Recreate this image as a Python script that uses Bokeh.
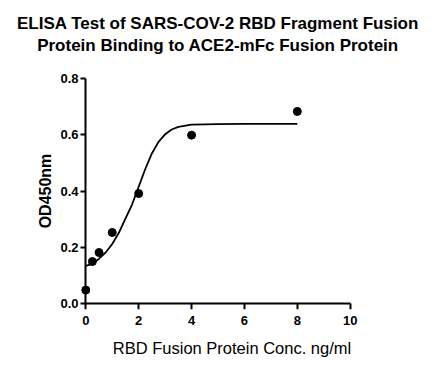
from bokeh.plotting import figure
from bokeh.layouts import column
from bokeh.models import FixedTicker, PrintfTickFormatter, LinearAxis, Title
from bokeh.core.properties import value
from bokeh.embed import file_html
from bokeh.resources import INLINE

# measured points
conc = [0, 0.25, 0.5, 1, 2, 4, 8]
od = [0.049, 0.150, 0.182, 0.253, 0.391, 0.598, 0.682]

# fitted curve
curve_x = [0, 0.25, 0.5, 0.75, 1.0, 1.25, 1.5, 1.75, 2.0, 2.25, 2.5, 2.75,
           3.0, 3.25, 3.5, 4.0, 5.0, 6.0, 8.0]
curve_y = [0.135, 0.142, 0.160, 0.182, 0.212, 0.252, 0.302, 0.352, 0.415,
           0.478, 0.533, 0.574, 0.601, 0.618, 0.627, 0.635, 0.637, 0.638, 0.638]

x_ticks = [0, 2, 4, 6, 8, 10]
y_ticks = [0.0, 0.2, 0.4, 0.6, 0.8]

title_line1 = "ELISA Test of SARS-COV-2 RBD Fragment Fusion"
title_line2 = "Protein Binding to ACE2-mFc Fusion Protein"
x_label = "RBD Fusion Protein Conc. ng/ml"
y_label = "OD450nm"

FONT = "Liberation Sans"
W = 435
TOP_H = 60
MAIN_H = 275
BOT_H = 42
FRAME_L = 80
FRAME_R = 355


def blank_panel(h, top_border=0):
    f = figure(width=W, height=h, output_backend="svg", toolbar_location=None,
               x_range=(FRAME_L, FRAME_R), y_range=(h, top_border),
               x_axis_type=None, y_axis_type=None,
               min_border=0, min_border_left=0, min_border_right=0,
               min_border_top=top_border, min_border_bottom=0)
    f.outline_line_color = None
    f.xgrid.grid_line_color = None
    f.ygrid.grid_line_color = None
    f.background_fill_color = "white"
    f.border_fill_color = "white"
    return f


# title panel: two title lines stacked above a thin empty frame
top = blank_panel(TOP_H, top_border=54)
top.title.text = title_line1
top.title.align = "center"
top.title.text_font = FONT
top.title.text_font_size = "17px"
top.title.text_font_style = "bold"
top.title.text_color = "black"
top.title.standoff = 2
top.add_layout(Title(text=title_line2, align="center", text_font=FONT,
                     text_font_size="17px", text_font_style="bold",
                     text_color="black", standoff=0), "above")

# main plot
p = figure(width=W, height=MAIN_H, output_backend="svg", toolbar_location=None,
           x_range=(-0.2, 10.2), y_range=(-0.02, 0.82),
           min_border_left=FRAME_L, min_border_right=W - FRAME_R,
           min_border_top=12, min_border_bottom=26)
p.outline_line_color = None
p.xgrid.grid_line_color = None
p.ygrid.grid_line_color = None
p.background_fill_color = "white"
p.border_fill_color = "white"

p.line(curve_x, curve_y, line_color="black", line_width=1.8)
p.scatter(conc, od, size=8, color="black")

# label-only axes at the frame edges
xa = p.xaxis[0]
ya = p.yaxis[0]
for ax in (xa, ya):
    ax.axis_line_color = None
    ax.major_tick_line_color = None
    ax.minor_tick_line_color = None
    ax.major_tick_in = 0
    ax.major_tick_out = 0
    ax.minor_tick_out = 0
    ax.major_label_text_font = FONT
    ax.major_label_text_font_size = "13px"
    ax.major_label_text_font_style = "bold"
    ax.major_label_text_color = "black"
    ax.axis_label_text_color = "black"

xa.ticker = FixedTicker(ticks=x_ticks)
xa.major_label_standoff = 6

ya.ticker = FixedTicker(ticks=y_ticks)
ya.formatter = PrintfTickFormatter(format="%.1f")
ya.major_label_standoff = 2
ya.axis_label = y_label
ya.axis_label_text_font = FONT
ya.axis_label_text_font_size = "16px"
ya.axis_label_text_font_style = "bold"
ya.axis_label_standoff = 3

# line-and-tick axes anchored at zero
for side, ticks, bnd in (("below", x_ticks, (0, 10)), ("left", y_ticks, (0, 0.8))):
    ax = LinearAxis(ticker=FixedTicker(ticks=ticks), fixed_location=0, bounds=bnd)
    ax.axis_line_width = 2
    ax.axis_line_color = "black"
    ax.major_tick_line_width = 2
    ax.major_tick_line_color = "black"
    ax.major_tick_in = 0
    ax.major_tick_out = 6
    ax.minor_tick_line_color = None
    ax.major_label_text_color = None
    ax.major_label_text_font_size = "1px"
    p.add_layout(ax, side)

# x-axis title panel (coordinates are page pixels)
bot = blank_panel(BOT_H)
bot.text(x=[231.5], y=[12], text=[x_label], text_align="center",
         text_baseline="middle", text_font=value(FONT), text_font_size="16.5px",
         text_color="black")

layout = column(top, p, bot, spacing=0)
open("out.html", "w").write(file_html(layout, INLINE))
